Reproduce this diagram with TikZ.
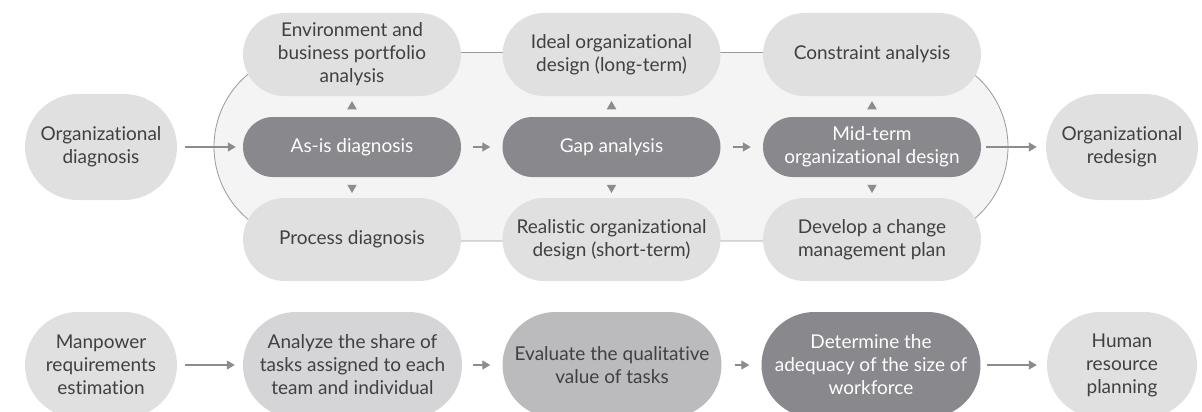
\documentclass[tikz,border=0pt]{standalone}
\usepackage{fontspec}
\setmainfont{Lato}[Ligatures={NoCommon,NoRare,NoDiscretionary}]
\usetikzlibrary{arrows.meta,shapes.geometric}
\definecolor{lightfill}{HTML}{E0E0E0}
\definecolor{midfill}{HTML}{D5D5D7}
\definecolor{grayfill}{HTML}{BBBBBD}
\definecolor{darkfill}{HTML}{88888D}
\definecolor{pillfill}{HTML}{F4F4F4}
\definecolor{pillline}{HTML}{9A9A9A}
\definecolor{arrowcol}{HTML}{8C8C90}
\definecolor{textdark}{HTML}{404040}
\begin{document}
\begin{tikzpicture}[x=1pt,y=-1pt,
  box/.style={draw=none, align=center, inner sep=0pt, text=textdark,
    font=\fontsize{19}{23}\selectfont},
  topbox/.style={box, fill=lightfill, minimum width=218pt, minimum height=83pt, rounded corners=41.5pt},
  midbox/.style={box, fill=darkfill, text=white, minimum width=218pt, minimum height=60pt, rounded corners=30pt},
  endbox/.style={box, fill=lightfill, minimum width=152pt, minimum height=106pt, rounded corners=53pt},
  lowbox/.style={box, minimum width=219pt, minimum height=106pt, rounded corners=53pt},
  conn/.style={draw=arrowcol, line width=1.2pt, -{Triangle[length=8pt,width=9pt]}},
  triup/.style={regular polygon, regular polygon sides=3, fill=arrowcol, draw=none, inner sep=0pt, minimum size=11pt},
  tridown/.style={triup, shape border rotate=180}
]
\useasboundingbox (0,0) rectangle (1202,412);
\clip (0,0) rectangle (1202,412);
% background pill
\draw[fill=pillfill, draw=pillline, line width=0.8pt, rounded corners=94.25pt] (214,52.5) rectangle (1008,241);

% top section
\node[endbox] (orgdiag) at (101,147) {Organizational\\diagnosis};
\node[endbox] (orgre) at (1122,147) {Organizational\\redesign};

\node[topbox] (env) at (352,54.5) {Environment and\\business portfolio\\analysis};
\node[topbox] (ideal) at (611.5,54.5) {Ideal organizational\\design (long-term)};
\node[topbox] (constr) at (872,54.5) {Constraint analysis};

\node[midbox] (asis) at (352,147) {As-is diagnosis};
\node[midbox] (gap) at (611.5,147) {Gap analysis};
\node[midbox] (midterm) at (872,147) {Mid-term\\organizational design};

\node[topbox] (proc) at (352,239.5) {Process diagnosis};
\node[topbox] (real) at (611.5,239.5) {Realistic organizational\\design (short-term)};
\node[topbox] (change) at (872,239.5) {Develop a change\\management plan};

\draw[conn, shorten <=8pt, shorten >=7pt] (orgdiag) -- (asis);
\draw[conn, shorten <=12pt, shorten >=12pt] (asis) -- (gap);
\draw[conn, shorten <=12pt, shorten >=12pt] (gap) -- (midterm);
\draw[conn, shorten <=5pt, shorten >=9pt] (midterm) -- (orgre);

\path (asis.north) -- (env.south) node[midway, triup] (t1) {};
\path (asis.south) -- (proc.north) node[midway, tridown] (t2) {};
\path (gap.north) -- (ideal.south) node[midway, triup] (t3) {};
\path (gap.south) -- (real.north) node[midway, tridown] (t4) {};
\path (midterm.north) -- (constr.south) node[midway, triup] (t5) {};
\path (midterm.south) -- (change.north) node[midway, tridown] (t6) {};

% bottom section
\node[endbox, minimum width=152pt] (manp) at (101,365) {Manpower\\requirements\\estimation};
\node[lowbox, fill=midfill] (anal) at (352.5,365) {Analyze the share of\\tasks assigned to each\\team and individual};
\node[lowbox, fill=grayfill] (eval) at (612,365) {Evaluate the qualitative\\value of tasks};
\node[lowbox, fill=darkfill, text=white] (deter) at (871,365) {Determine the\\adequacy of the size of\\workforce};
\node[endbox, minimum width=150pt] (hr) at (1122,365) {Human\\resource\\planning};

\draw[conn, shorten <=8pt, shorten >=8pt] (manp) -- (anal);
\draw[conn, shorten <=11pt, shorten >=12pt] (anal) -- (eval);
\draw[conn, shorten <=13pt, shorten >=12pt] (eval) -- (deter);
\draw[conn, shorten <=6pt, shorten >=10pt] (deter) -- (hr);
\end{tikzpicture}
\end{document}
